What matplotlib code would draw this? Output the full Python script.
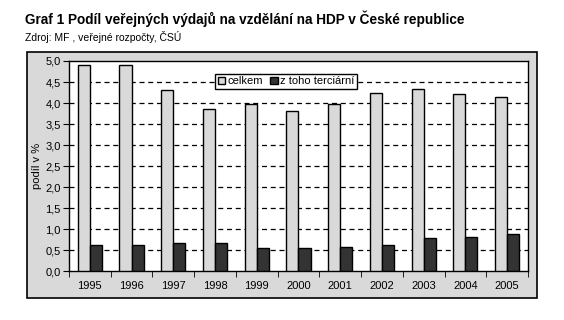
import numpy as np
import matplotlib
matplotlib.use("Agg")
from matplotlib import pyplot as plt
from matplotlib.patches import Rectangle

plt.rcParams['font.family'] = ['Liberation Sans', 'DejaVu Sans']

years = ['1995', '1996', '1997', '1998', '1999', '2000', '2001', '2002', '2003', '2004', '2005']
celkem = [4.90, 4.90, 4.30, 3.85, 3.99, 3.81, 3.97, 4.23, 4.33, 4.21, 4.14]
terciarni = [0.64, 0.64, 0.67, 0.67, 0.55, 0.55, 0.57, 0.62, 0.79, 0.81, 0.88]
yticks = np.arange(0, 5.01, 0.5)

fig = plt.figure(figsize=(5.64, 3.2), dpi=100)

# sede pozadi grafu s ramečkem
bg = Rectangle((0.047, 0.069), 0.905, 0.768, transform=fig.transFigure,
               facecolor='#d9d9d9', edgecolor='black', lw=1.2, zorder=0)
fig.patches.append(bg)

ax = fig.add_axes([0.1223, 0.1516, 0.8138, 0.6578])
ax.set_zorder(2)
ax.set_facecolor('white')

x = np.arange(len(years))
w = 0.29
ax.bar(x - w / 2, celkem, w, color='#d9d9d9', edgecolor='black', lw=1, label='celkem', zorder=3)
ax.bar(x + w / 2, terciarni, w, color='#333333', edgecolor='black', lw=1, label='z toho terciární', zorder=3)

ax.set_xlim(-0.5, len(years) - 0.5)
ax.set_ylim(0, 5)
ax.set_yticks(yticks)
ax.set_yticklabels([f'{v:.1f}'.replace('.', ',') for v in yticks], fontsize=8)
ax.set_xticks(x)
ax.set_xticklabels(years, fontsize=8)
ax.tick_params(axis='x', length=0, pad=7)
ax.set_xticks(np.arange(-0.5, len(years), 1), minor=True)
ax.tick_params(axis='x', which='minor', length=4, direction='out', color='black')
ax.tick_params(axis='y', length=4, direction='out', pad=2)

for v in yticks[1:-1]:
    ax.axhline(v, color='black', lw=0.9, ls=(0, (4, 3)), zorder=1)

for s in ax.spines.values():
    s.set_color('black')
    s.set_linewidth(1)

ax.set_ylabel('podíl v %', fontsize=8, labelpad=2)

leg = ax.legend(ncol=2, loc='upper left', bbox_to_anchor=(0.318, 0.94), fontsize=8,
                frameon=True, fancybox=False, edgecolor='black', framealpha=1,
                handlelength=0.7, handleheight=0.7, handletextpad=0.2,
                columnspacing=0.6, borderpad=0.25, borderaxespad=0)
leg.get_frame().set_linewidth(1)
leg.set_zorder(5)

fig.text(0.045, 0.925, 'Graf 1 Podíl veřejných výdajů na vzdělání na HDP v České republice',
         fontsize=9.8, fontweight='bold', ha='left', va='baseline')
fig.text(0.045, 0.872, 'Zdroj: MF , veřejné rozpočty, ČSÚ', fontsize=7.5, ha='left', va='baseline')

fig.savefig('out.png', dpi=100)
